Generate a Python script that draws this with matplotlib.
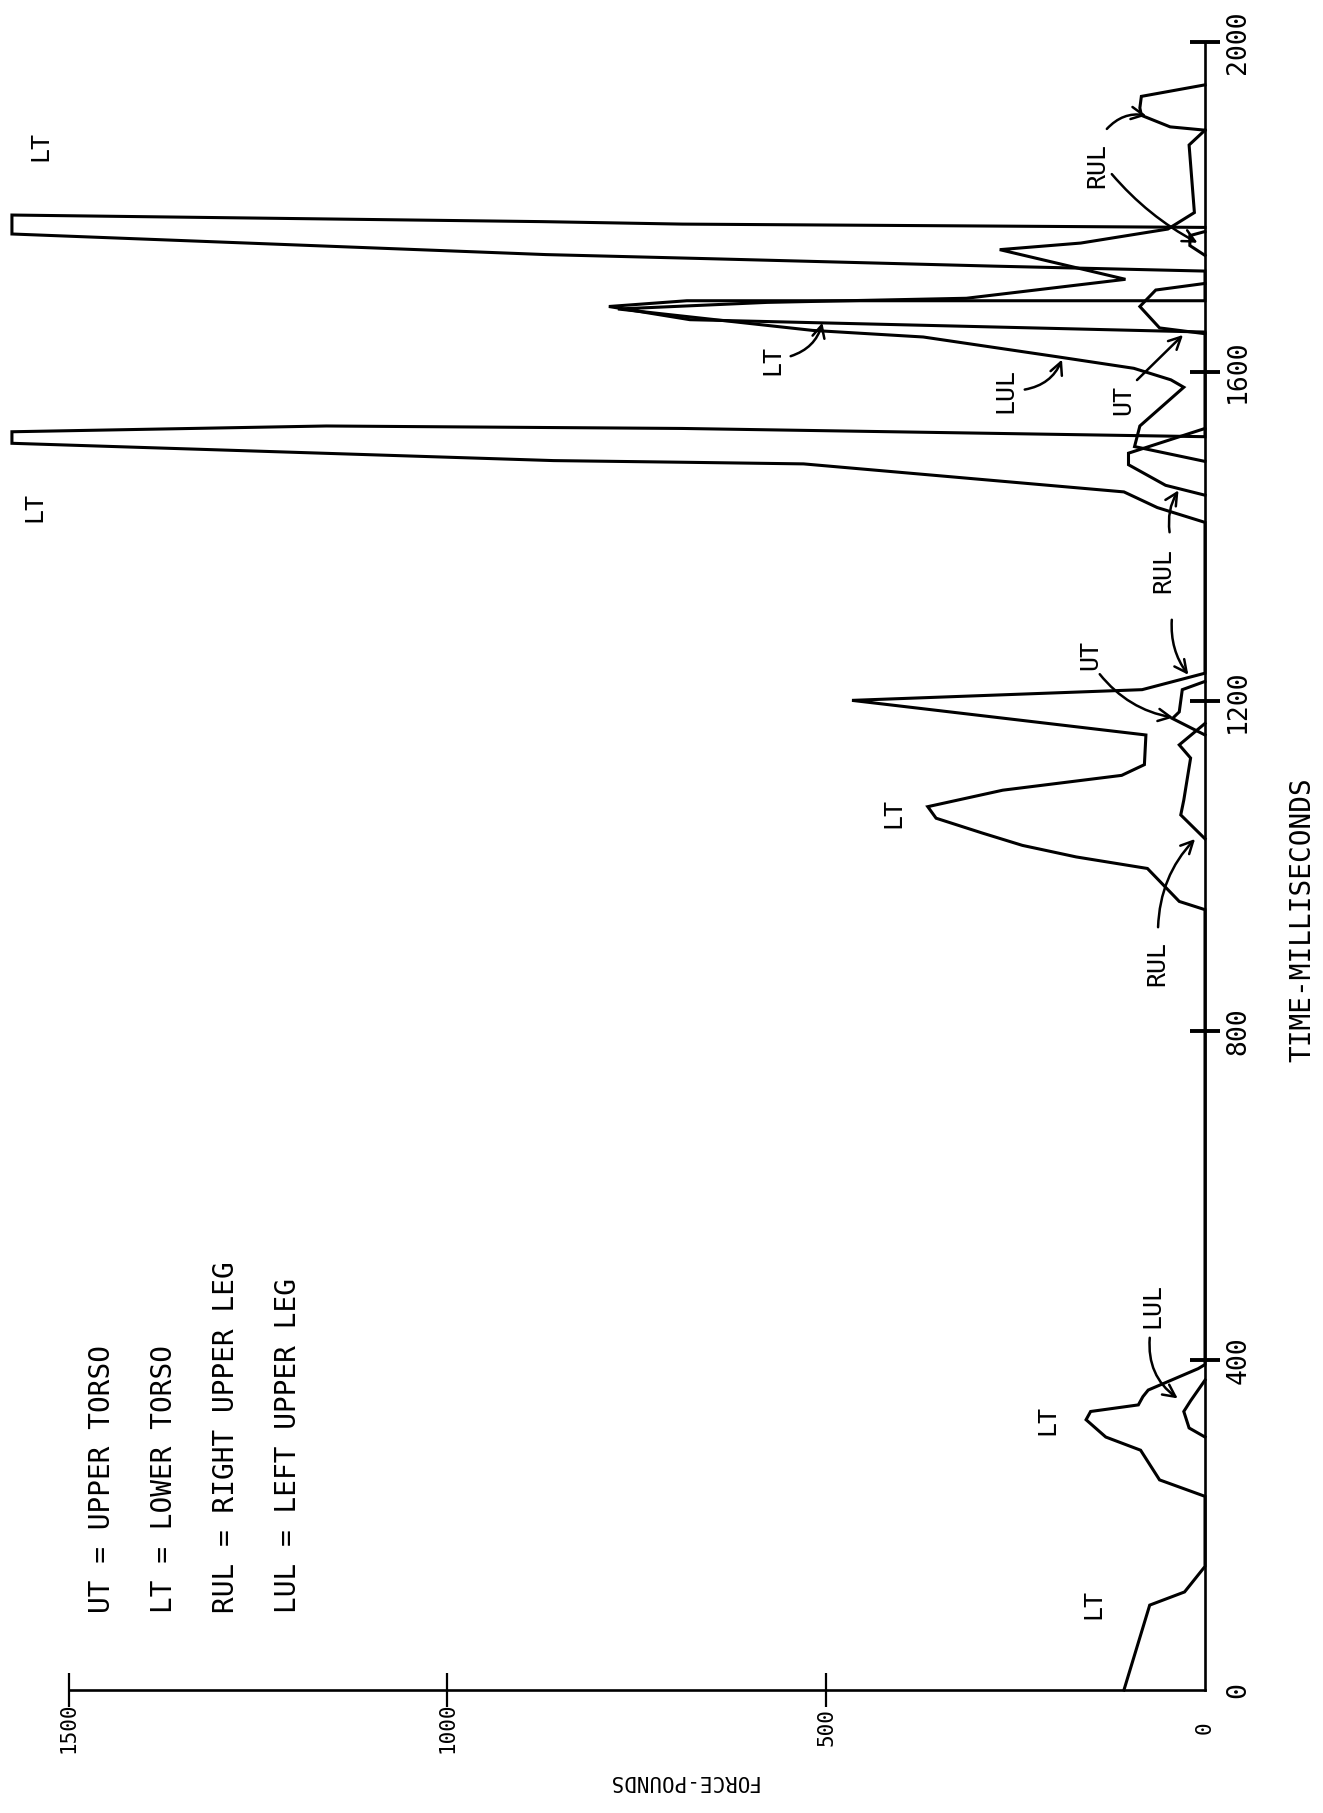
import numpy as np
import matplotlib
matplotlib.use("Agg")
import matplotlib.pyplot as plt

nan = np.nan
# ---- data: time (ms) vs force (lb) ----
lt_time = [0, 103, 119, 127, 150, 235, 255, 291, 307, 328, 338, 346, 356, 364, 390, 395,
           947, 957, 997, 1011, 1025, 1040, 1058, 1072, 1092, 1110, 1123, 1159, 1201, 1214, 1234,
           1417, 1435, 1454, 1488, 1490, 1492, 1513, 1527, 1534, 1531, 1521,
           1648, 1663, 1679, 1686, 1686, 1722,
           1728, 1737, 1742, 1767, 1790, 1782, 1779, 1775]
lt_force = [107, 73, 27, 20, 0, 0, 60, 85, 131, 157, 151, 88, 82, 75, 9, 0,
            0, 34, 76, 170, 241, 294, 355, 366, 267, 110, 80, 78, 466, 83, 0,
            0, 63, 107, 530, 690, 860, 1575, 1575, 1160, 690, 0,
            0, 680, 787, 684, 0, 0,
            279, 654, 870, 1575, 1575, 875, 690, 0]

ut_time = [1159, 1179, 1187, 1214, 1224, nan, 1646, 1653, 1679, 1699, 1707]
ut_force = [0, 43, 34, 30, 0, nan, 0, 60, 86, 65, 0]

rul_time = [1033, 1062, 1080, 1131, 1147, 1173, nan,
            1450, 1462, 1487, 1501, 1531, nan,
            1741, 1753, 1765, 1770, nan,
            1893, 1897, 1911, 1920, 1934, 1948]
rul_force = [0, 32, 28, 19, 34, 0, nan,
             0, 52, 101, 101, 0, nan,
             0, 20, 20, 0, nan,
             0, 46, 84, 86, 84, 0]

lul_time = [307, 318, 338, 351, 376, nan,
            1491, 1509, 1534, 1581, 1590, 1604, 1618, 1642, 1650, 1676, 1684, 1689,
            1712, 1748, 1756, 1773, 1793, 1875, 1893]
lul_force = [0, 21, 28, 19, 0, nan,
             0, 93, 86, 28, 45, 94, 195, 372, 518, 775, 578, 315,
             105, 271, 164, 49, 14, 21, 0]

time_ticks = [0, 400, 800, 1200, 1600, 2000]
force_ticks = [0, 500, 1000, 1500]
legend_lines = ["UT = UPPER TORSO", "LT = LOWER TORSO",
                "RUL = RIGHT UPPER LEG", "LUL = LEFT UPPER LEG"]

MONO = ["DejaVu Sans Mono"]

# ---- figure ----
W, H = 1323, 1813
fig = plt.figure(figsize=(W / 100, H / 100), dpi=100)
ax = fig.add_axes([0, 0, 1, 1])
ax.set_facecolor("white")

# pixel mapping: force 0 at x=1205, 0.7575 px/lb ; time 0 at y=1690 (from top), 0.824 px/ms
fx0, fs = 1205.0, 0.7575
ty0, ts = 1690.0, 0.824
ax.set_xlim(fx0 / fs, -(W - fx0) / fs)
ax.set_ylim(-(H - ty0) / ts, (ty0) / ts)

lw = 2.2
for xs, ys in [(lt_force, lt_time), (ut_force, ut_time),
               (rul_force, rul_time), (lul_force, lul_time)]:
    ax.plot(xs, ys, color="black", lw=lw, solid_joinstyle="miter", clip_on=False)

# axes spines
for s in ["top", "left"]:
    ax.spines[s].set_visible(False)
ax.spines["right"].set_position(("data", 0))
ax.spines["right"].set_bounds(0, 2000)
ax.spines["bottom"].set_position(("data", 0))
ax.spines["bottom"].set_bounds(0, 1500)
ax.spines["right"].set_linewidth(1.9)
ax.spines["bottom"].set_linewidth(1.9)

ax.yaxis.tick_right()
ax.set_yticks(time_ticks)
ax.set_yticklabels([str(v) for v in time_ticks], family=MONO)
ax.set_xticks(force_ticks)
ax.set_xticklabels([str(v) for v in force_ticks], family=MONO)
ax.tick_params(axis="y", direction="inout", length=21, width=2.8, labelsize=19,
               labelrotation=90, pad=4)
ax.tick_params(axis="x", direction="inout", length=24, width=1.6, labelsize=15,
               labelrotation=90, pad=15)
for lab in ax.get_yticklabels():
    lab.set_va("center")
for lab in ax.get_xticklabels():
    lab.set_va("center")
ax.yaxis.get_major_ticks()[0].tick2line.set_visible(False)
ax.xaxis.get_major_ticks()[0].tick1line.set_visible(False)

def px(x, y):
    return ((fx0 - x) / fs, (ty0 - y) / ts)

# axis titles
ax.text(*px(1302, 920), "TIME-MILLISECONDS", rotation=90, fontsize=20,
        family=MONO, ha="center", va="center")
ax.text(*px(682, 1781), "FORCE-POUNDS", rotation=180, fontsize=15,
        family=MONO, ha="center", va="center")

# key
for i, line in enumerate(legend_lines):
    ax.text(*px(102 + 62 * i, 1613), line, rotation=90, fontsize=20,
            family=MONO, ha="center", va="bottom")

# curve labels
labels = [
    ("LT", 1093, 1604), ("LT", 1047, 1420), ("LUL", 1152, 1305),
    ("LT", 893, 813), ("RUL", 1157, 963), ("UT", 1090, 655),
    ("RUL", 1163, 570), ("LT", 34, 507), ("LT", 40, 146),
    ("LT", 772, 360), ("LUL", 1005, 390), ("UT", 1123, 400),
    ("RUL", 1097, 165),
]
for txt, x, y in labels:
    ax.text(*px(x, y), txt, rotation=90, fontsize=18, family=MONO,
            ha="center", va="center")

arrows = [
    ((1150, 1335), (1180, 1400), 0.3),
    ((1158, 930), (1197, 837), -0.2),
    ((1098, 672), (1176, 718), 0.2),
    ((1170, 535), (1180, 488), -0.2),
    ((1172, 617), (1190, 677), 0.2),
    ((788, 357), (823, 320), 0.3),
    ((1022, 390), (1063, 357), 0.3),
    ((1135, 382), (1185, 333), 0.0),
    ((1105, 131), (1149, 116), -0.3),
    ((1110, 172), (1200, 244), 0.1),
]
for (x1, y1), (x2, y2), rad in arrows:
    ax.annotate("", xy=px(x2, y2), xytext=px(x1, y1),
                arrowprops=dict(arrowstyle="->", color="black", lw=1.8,
                                mutation_scale=22,
                                connectionstyle=f"arc3,rad={rad}"))

fig.savefig("out.png", dpi=100, facecolor="white")
